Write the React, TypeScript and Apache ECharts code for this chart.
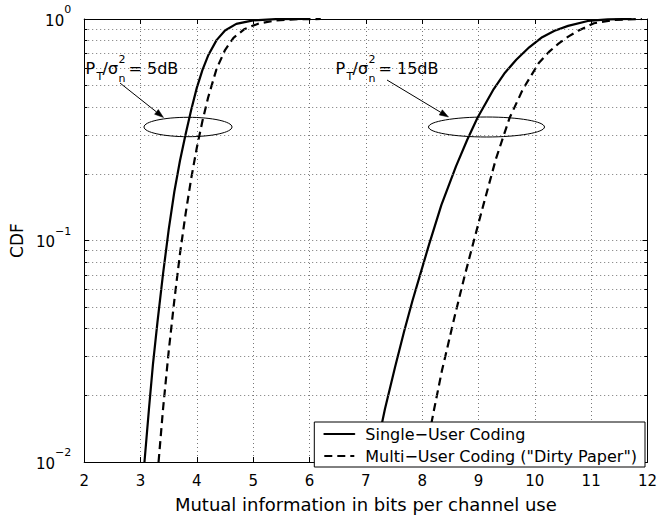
import React, { useEffect, useRef } from "react";
import * as echarts from "echarts";

// ---- data ----
const xTicks = [2, 3, 4, 5, 6, 7, 8, 9, 10, 11, 12];
const yMajor = [0.01, 0.1, 1];
const yMinor = [0.02, 0.03, 0.04, 0.05, 0.06, 0.07, 0.08, 0.09, 0.2, 0.3, 0.4, 0.5, 0.6, 0.7, 0.8, 0.9];

const seriesNames = ["Single\u2212User Coding", 'Multi\u2212User Coding ("Dirty Paper")'];

const singleUser5dB: [number, number][] = [
  [3.07, 0.01], [3.15, 0.0174], [3.22, 0.0275], [3.30, 0.0427], [3.40, 0.0708], [3.50, 0.112],
  [3.60, 0.166], [3.70, 0.229], [3.80, 0.302], [3.90, 0.389], [4.00, 0.49], [4.10, 0.589],
  [4.20, 0.684], [4.35, 0.803], [4.50, 0.887], [4.70, 0.951], [5.0, 0.986], [5.4, 0.998], [5.9, 1.0],
];
const multiUser5dB: [number, number][] = [
  [3.32, 0.01], [3.40, 0.0174], [3.50, 0.0316], [3.60, 0.0537], [3.70, 0.0871], [3.80, 0.132],
  [3.90, 0.191], [4.00, 0.263], [4.10, 0.347], [4.20, 0.442], [4.35, 0.596], [4.50, 0.724],
  [4.65, 0.822], [4.85, 0.902], [5.1, 0.955], [5.4, 0.984], [5.8, 0.998], [6.2, 1.0],
];
const singleUser15dB: [number, number][] = [
  [7.14, 0.01], [7.34, 0.0174], [7.52, 0.0269], [7.68, 0.0389], [7.83, 0.0537], [7.98, 0.0724],
  [8.12, 0.0955], [8.34, 0.1445], [8.60, 0.216], [8.80, 0.285], [8.98, 0.357], [9.27, 0.483],
  [9.47, 0.572], [9.67, 0.655], [9.90, 0.745], [10.13, 0.828], [10.35, 0.885], [10.59, 0.931],
  [10.94, 0.98], [11.3, 0.997], [11.7, 1.0],
];
const multiUser15dB: [number, number][] = [
  [8.03, 0.01], [8.21, 0.0172], [8.35, 0.0258], [8.58, 0.0458], [8.75, 0.0686], [8.90, 0.096],
  [9.10, 0.149], [9.31, 0.234], [9.55, 0.357], [9.79, 0.483], [10.07, 0.633], [10.25, 0.71],
  [10.42, 0.774], [10.60, 0.835], [10.77, 0.886], [11.05, 0.957], [11.4, 0.99], [11.9, 1.0],
];

const annotationLabels = ["= 5dB", "= 15dB"];

const FONT = "'DejaVu Sans', 'Liberation Sans', sans-serif";

function txt(x: number, y: number, text: string, size: number) {
  return {
    type: "text",
    x,
    y,
    z: 100,
    style: {
      text,
      fill: "#000",
      opacity: 1,
      fontFamily: "DejaVu Sans",
      fontSize: size,
      textAlign: "left",
      textVerticalAlign: "middle",
      align: "left",
      verticalAlign: "middle",
    },
  };
}

function annotationText(x0: number, label: string) {
  return [
    txt(x0, 68.5, "P", 16),
    txt(x0 + 11, 76.5, "T", 11),
    txt(x0 + 17, 68.5, "/\u03c3", 16),
    txt(x0 + 33, 59, "2", 11),
    txt(x0 + 33, 78.5, "n", 11),
    txt(x0 + 43, 68.5, label, 16),
  ];
}

function arrow(x1: number, y1: number, x2: number, y2: number) {
  const ang = Math.atan2(y2 - y1, x2 - x1);
  const L = 9;
  const W = 3;
  const bx = x2 - L * Math.cos(ang);
  const by = y2 - L * Math.sin(ang);
  const px = -Math.sin(ang) * W;
  const py = Math.cos(ang) * W;
  return [
    {
      type: "line",
      z: 100,
      shape: { x1, y1, x2: bx, y2: by },
      style: { stroke: "#000", lineWidth: 1 },
    },
    {
      type: "polygon",
      z: 100,
      shape: { points: [[x2, y2], [bx + px, by + py], [bx - px, by - py]] },
      style: { fill: "#000", stroke: "#000", lineWidth: 0.5 },
    },
  ];
}

function ellipse(cx: number, cy: number, rx: number, ry: number) {
  return {
    type: "ellipse",
    z: 100,
    shape: { cx, cy, rx, ry },
    style: { fill: "none", stroke: "#000", lineWidth: 1 },
  };
}

export default function App() {
  const ref = useRef<HTMLDivElement>(null);

  useEffect(() => {
    if (!ref.current) return;
    const chart = echarts.init(ref.current, null, { renderer: "svg" });

    const solid = { color: "#000", width: 2.2, type: "solid" as const, join: "round", cap: "round" };
    const dashed = { color: "#000", width: 2.2, type: [8, 5] as any, join: "round" };

    const lineSeries = (name: string, data: [number, number][], ls: any) => ({
      type: "line",
      name,
      data,
      xAxisIndex: 0,
      yAxisIndex: 0,
      showSymbol: false,
      symbol: "none",
      smooth: false,
      lineStyle: ls,
      itemStyle: { color: "#000" },
      emphasis: { disabled: true },
      z: 2,
    });

    const minorTicks: any[] = [];
    yMinor.forEach((v) => {
      minorTicks.push([{ coord: [xTicks[0], v] }, { coord: [xTicks[0] + 0.055, v] }]);
      minorTicks.push([
        { coord: [xTicks[xTicks.length - 1] - 0.055, v] },
        { coord: [xTicks[xTicks.length - 1], v] },
      ]);
    });

    const option: any = {
      animation: false,
      backgroundColor: "#fff",
      textStyle: { fontFamily: FONT },
      grid: { left: 69.5, right: 23.5, top: 19, bottom: 44.7, containLabel: false },
      legend: {
        data: seriesNames,
        orient: "vertical",
        right: 26,
        top: 422,
        z: 10,
        padding: [4, 8, 3, 9],
        itemGap: 6,
        itemWidth: 30,
        itemHeight: 14,
        backgroundColor: "#fff",
        borderColor: "#000",
        borderWidth: 1,
        borderRadius: 0,
        selectedMode: false,
        itemStyle: { opacity: 0, borderWidth: 0 },
        textStyle: { fontSize: 16, color: "#000", fontFamily: FONT, padding: [0, 0, 0, 6] },
      },
      xAxis: [
        {
          type: "value",
          min: xTicks[0],
          max: xTicks[xTicks.length - 1],
          interval: 1,
          name: "Mutual information in bits per channel use",
          nameLocation: "middle",
          nameGap: 33,
          nameTextStyle: { fontSize: 18, color: "#000", fontFamily: FONT },
          axisLine: { show: true, onZero: false, lineStyle: { color: "#000", width: 1 } },
          axisTick: { show: true, inside: true, length: 5, lineStyle: { color: "#000" } },
          axisLabel: { fontSize: 15, color: "#000", margin: 11, fontFamily: FONT },
          splitLine: { show: true, lineStyle: { type: [1, 3], color: "#777", width: 1 } },
        },
        {
          type: "value",
          position: "top",
          min: xTicks[0],
          max: xTicks[xTicks.length - 1],
          interval: 1,
          axisLine: { show: true, onZero: false, lineStyle: { color: "#000", width: 1 } },
          axisTick: { show: true, inside: true, length: 5, lineStyle: { color: "#000" } },
          axisLabel: { show: false },
          splitLine: { show: false },
        },
      ],
      yAxis: [
        {
          type: "log",
          logBase: 10,
          min: yMajor[0],
          max: yMajor[yMajor.length - 1],
          name: "CDF",
          nameLocation: "middle",
          nameGap: 30,
          nameTextStyle: { fontSize: 17, color: "#000", fontFamily: FONT },
          axisLine: { show: true, lineStyle: { color: "#000", width: 1 } },
          axisTick: { show: true, inside: true, length: 5, lineStyle: { color: "#000" } },
          axisLabel: {
            margin: 13,
            color: "#000",
            formatter: (v: number) => {
              const e = Math.round(Math.log10(v));
              const s = e === 0 ? "0" : "\u2212" + String(-e);
              return "{b|10}{s|" + s + "}";
            },
            rich: {
              b: {
                fontSize: 15,
                fontFamily: FONT,
                color: "#000",
                verticalAlign: "middle",
                lineHeight: 15,
                padding: [3, 0, 0, 0],
              },
              s: {
                fontSize: 11,
                fontFamily: FONT,
                color: "#000",
                verticalAlign: "middle",
                lineHeight: 11,
                padding: [0, 0, 19, 0],
              },
            },
          },
          splitLine: { show: true, lineStyle: { type: [1, 3], color: "#777", width: 1 } },
        },
        {
          type: "log",
          logBase: 10,
          position: "right",
          min: yMajor[0],
          max: yMajor[yMajor.length - 1],
          axisLine: { show: true, lineStyle: { color: "#000", width: 1 } },
          axisTick: { show: true, inside: true, length: 5, lineStyle: { color: "#000" } },
          axisLabel: { show: false },
          splitLine: { show: false },
        },
      ],
      series: [
        {
          type: "line",
          name: "minor-grid",
          data: [],
          xAxisIndex: 0,
          yAxisIndex: 0,
          z: 1,
          markLine: {
            silent: true,
            symbol: ["none", "none"],
            label: { show: false },
            emphasis: { disabled: true },
            lineStyle: { type: [1, 3], color: "#777", width: 1 },
            data: yMinor.map((v) => ({ yAxis: v })),
          },
        },
        {
          type: "line",
          name: "minor-ticks",
          data: [],
          xAxisIndex: 0,
          yAxisIndex: 0,
          z: 1,
          markLine: {
            silent: true,
            symbol: ["none", "none"],
            label: { show: false },
            emphasis: { disabled: true },
            lineStyle: { type: "solid", color: "#000", width: 1 },
            data: minorTicks,
          },
        },
        lineSeries(seriesNames[0], singleUser5dB, solid),
        lineSeries(seriesNames[1], multiUser5dB, dashed),
        lineSeries(seriesNames[0], singleUser15dB, solid),
        lineSeries(seriesNames[1], multiUser15dB, dashed),
      ],
      graphic: [
        ...annotationText(85.5, annotationLabels[0]),
        ...annotationText(335.5, annotationLabels[1]),
        ...arrow(120, 83, 163.5, 117.5),
        ...arrow(387, 80, 448.5, 117),
        ellipse(188, 127, 44, 9.7),
        ellipse(486.5, 127, 58, 10),
      ],
    };

    chart.setOption(option);
    return () => chart.dispose();
  }, []);

  return (
    <div
      ref={ref}
      style={{ position: "fixed", left: 0, top: 0, width: 671, height: 518, background: "#fff" }}
    />
  );
}
